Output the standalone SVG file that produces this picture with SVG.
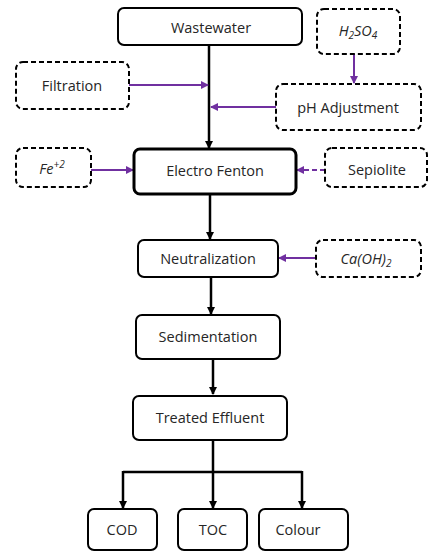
<svg xmlns="http://www.w3.org/2000/svg" width="428" height="552" viewBox="0 0 428 552">
<style>
.box{fill:#fff;stroke:#000;stroke-width:2}
.thick{stroke-width:3}
.dash{fill:#fff;stroke:#000;stroke-width:2;stroke-dasharray:5 3}
.t{font-family:"Open Sans","Noto Sans",sans-serif;font-size:14.5px;fill:#262626;text-anchor:middle}
.i{font-style:italic}
.k{stroke:#000;stroke-width:2.5;fill:none}
.p{stroke:#7030A0;stroke-width:2;fill:none}
</style>
<defs>
<marker id="ak" markerWidth="8" markerHeight="8" refX="7" refY="4" orient="auto" markerUnits="userSpaceOnUse"><path d="M0,0 L8,4 L0,8 Z" fill="#000"/></marker>
<marker id="ap" markerWidth="8" markerHeight="8" refX="7" refY="4" orient="auto" markerUnits="userSpaceOnUse"><path d="M0,0 L8,4 L0,8 Z" fill="#7030A0"/></marker>
</defs>
<g id="connectors">
<line class="k" x1="209" y1="45" x2="209" y2="148" marker-end="url(#ak)"/>
<line class="p" x1="129" y1="85" x2="208" y2="85" marker-end="url(#ap)"/>
<line class="p" x1="276" y1="107" x2="211" y2="107" marker-end="url(#ap)"/>
<line class="p" x1="354" y1="54" x2="354" y2="83" marker-end="url(#ap)"/>
<line class="p" x1="91" y1="170" x2="133" y2="170" marker-end="url(#ap)"/>
<line class="p" x1="325" y1="170" x2="297" y2="170" stroke-dasharray="5 3" marker-end="url(#ap)"/>
<line class="k" x1="210" y1="194" x2="210" y2="239" marker-end="url(#ak)"/>
<line class="p" x1="316" y1="258" x2="279" y2="258" marker-end="url(#ap)"/>
<line class="k" x1="211" y1="277" x2="211" y2="314" marker-end="url(#ak)"/>
<line class="k" x1="213" y1="359" x2="213" y2="394" marker-end="url(#ak)"/>
<polyline class="k" points="213,440 213,472"/>
<polyline class="k" points="123,472 302,472"/>
<line class="k" x1="123" y1="471" x2="123" y2="508" marker-end="url(#ak)"/>
<line class="k" x1="213" y1="472" x2="213" y2="508" marker-end="url(#ak)"/>
<line class="k" x1="302" y1="471" x2="302" y2="508" marker-end="url(#ak)"/>
</g>
<g id="wastewater"><rect class="box" x="118" y="8" width="184" height="37" rx="6"/><text class="t" x="211" y="33">Wastewater</text></g>
<g id="h2so4"><rect class="dash" x="317" y="9" width="83" height="45" rx="7"/><text class="t i" x="358" y="36">H<tspan font-size="10" dy="3">2</tspan><tspan dy="-3">SO</tspan><tspan font-size="10" dy="3">4</tspan></text></g>
<g id="filtration"><rect class="dash" x="16" y="62" width="113" height="47" rx="7"/><text class="t" x="72" y="91">Filtration</text></g>
<g id="ph"><rect class="dash" x="276" y="84" width="145" height="46" rx="7"/><text class="t" x="348" y="113">pH Adjustment</text></g>
<g id="fe"><rect class="dash" x="16" y="148" width="75" height="39" rx="7"/><text class="t i" x="52" y="174">Fe<tspan font-size="10" dy="-6">+2</tspan></text></g>
<g id="electro"><rect class="box thick" x="134" y="149" width="162" height="45" rx="6"/><text class="t" x="215" y="176">Electro Fenton</text></g>
<g id="sepiolite"><rect class="dash" x="325" y="148" width="102" height="39" rx="7"/><text class="t" x="377" y="175">Sepiolite</text></g>
<g id="neutralization"><rect class="box" x="138" y="240" width="140" height="37" rx="6"/><text class="t" x="208" y="264">Neutralization</text></g>
<g id="caoh"><rect class="dash" x="316" y="240" width="105" height="37" rx="7"/><text class="t i" x="366" y="264">Ca(OH)<tspan font-size="10" dy="3">2</tspan></text></g>
<g id="sedimentation"><rect class="box" x="136" y="315" width="144" height="44" rx="6"/><text class="t" x="208" y="342">Sedimentation</text></g>
<g id="treated"><rect class="box" x="133" y="396" width="154" height="44" rx="6"/><text class="t" x="210" y="423">Treated Effluent</text></g>
<g id="cod"><rect class="box" x="88" y="509" width="69" height="41" rx="6"/><text class="t" x="122" y="535">COD</text></g>
<g id="toc"><rect class="box" x="178" y="509" width="69" height="41" rx="6"/><text class="t" x="213" y="535">TOC</text></g>
<g id="colour"><rect class="box" x="259" y="509" width="89" height="41" rx="6"/><text class="t" x="298" y="535">Colour</text></g>
</svg>
